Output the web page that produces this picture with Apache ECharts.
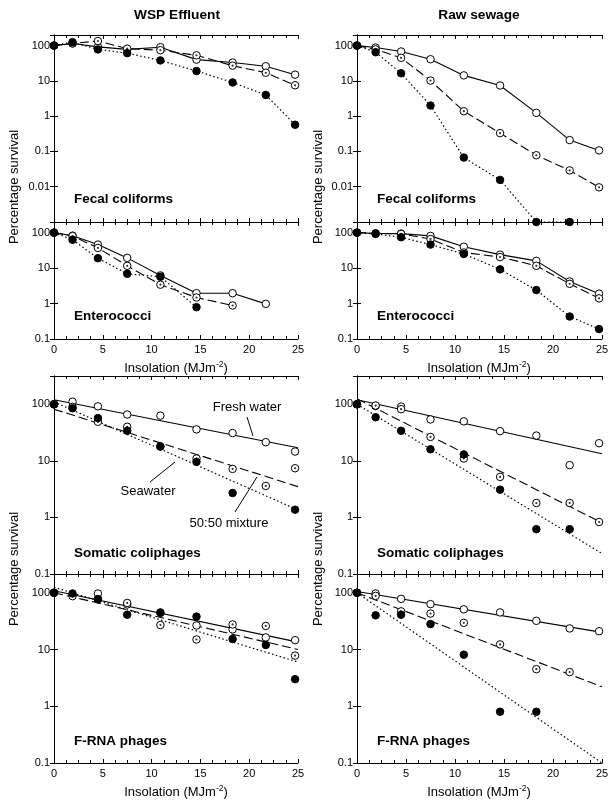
<!DOCTYPE html>
<html><head><meta charset="utf-8">
<script src="https://cdn.jsdelivr.net/npm/echarts@6/dist/echarts.min.js"></script>
<style>html,body{margin:0;padding:0;background:#fff}#c{width:615px;height:807px}</style>
</head><body><div id="c"></div>
<script>
// ---------- data ----------
const insolation = [0, 1.9, 4.5, 7.5, 10.9, 14.6, 18.3, 21.7, 24.7];
const fitX = [0, 25];
const xTickLabels = ['0', '5', '10', '15', '20', '25'];
const yTickLabelsFecal = ['0.01', '0.1', '1', '10', '100'];
const yTickLabels = ['0.1', '1', '10', '100'];
const columnTitles = ['WSP Effluent', 'Raw sewage'];
const panelNames = ['Fecal coliforms', 'Enterococci', 'Somatic coliphages', 'F-RNA phages'];

// Fresh water = open circles, solid; 50:50 mixture = dotted circles, dashed; Seawater = filled, dotted
const wspFecalFresh = [100, 115, 92, 78, 90, 40, 33, 26, 15];
const wspFecalMix   = [100, 115, 135, 82, 74, 53, 27, 17, 7.5];
const wspFecalSea   = [100, 125, 78, 61, 38, 19, 9, 4, 0.57];

const rawFecalFresh = [100, 88, 68, 41, 14.3, 7.4, 1.24, 0.21, 0.107];
const rawFecalMix   = [100, 78, 45, 10.2, 1.38, 0.33, 0.078, 0.029, 0.0096];
const rawFecalSea   = [100, 65, 16.4, 2, 0.067, 0.0156, 0.001, 0.001, null];

const wspEnteroFresh = [100, 82, 46, 19.4, 6.2, 1.96, 1.96, 0.98, null];
const wspEnteroMix   = [100, 80, 37, 11.6, 3.4, 1.48, 0.88, null, null];
const wspEnteroSea   = [100, 63, 19, 6.9, 5.7, 0.79, null, null, null];

const rawEnteroFresh = [100, 95, 94, 81, 40, 24, 16, 4.2, 1.9];
const rawEnteroMix   = [100, 95, 92, 66, 27.5, 20.5, 11.6, 3.6, 1.4];
const rawEnteroSea   = [100, 92, 74, 46, 25, 9.2, 2.4, 0.43, 0.19];

const wspSomaticFresh = [100, 111, 92, 66, 63, 36, 31, 21.4, 14.6];
const wspSomaticMix   = [100, 90, 49, 40, 18, 11, 7.2, 3.6, 7.4];
const wspSomaticSea   = [100, 85, 57, 34, 17.9, 9.6, 2.7, null, 1.37];
const wspSomaticFreshFit = [120, 17];
const wspSomaticMixFit   = [82, 3.5];
const wspSomaticSeaFit   = [110, 1.35];

const rawSomaticFresh = [100, 93, 91, 54, 50, 33.5, 28, 8.4, 20.5];
const rawSomaticMix   = [100, 95, 82, 26.5, 11, 5.2, 1.8, 1.8, 0.83];
const rawSomaticSea   = [100, 59, 34, 16, 13, 3.1, 0.62, 0.62, null];
const rawSomaticFreshFit = [120, 13.4];
const rawSomaticMixFit   = [125, 0.8];
const rawSomaticSeaFit   = [100, 0.23];

const wspFrnaFresh = [100, 91, 97, 62, 44, 26.5, 22.6, 16.3, 14.6];
const wspFrnaMix   = [100, 87, 77, 66, 27, 15, 27.6, 26, 7.8];
const wspFrnaSea   = [100, 97, 77, 41, 45, 38, 15.3, 12, 3];
const wspFrnaFreshFit = [108, 13.5];
const wspFrnaMixFit   = [100, 10];
const wspFrnaSeaFit   = [125, 6];

const rawFrnaFresh = [100, 97, 78, 63, 51, 45, 32, 23.5, 21];
const rawFrnaMix   = [100, 88, 47, 43, 29.5, 12.3, 4.5, 4, null];
const rawFrnaSea   = [100, 40, 41, 28, 8.1, 0.8, 0.8, null, null];
const rawFrnaFreshFit = [105, 20];
const rawFrnaMixFit   = [100, 2.2];
const rawFrnaSeaFit   = [100, 0.1];

// ---------- layout ----------
const FONT = '"Liberation Sans", Arial, Helvetica, sans-serif';
const colLeft = [54, 357], colWidth = [244, 245];
const rows = [
  {top: 35,  height: 187, min: 0.001, max: Math.pow(10, 2.3),  labels: yTickLabelsFecal, xLabels: false, labelY: 199},
  {top: 222, height: 117, min: 0.1,   max: Math.pow(10, 2.3),  labels: yTickLabels,      xLabels: true,  labelY: 316},
  {top: 376, height: 198, min: 0.1,   max: Math.pow(10, 2.5),  labels: yTickLabels,      xLabels: false, labelY: 553},
  {top: 574, height: 189, min: 0.1,   max: Math.pow(10, 2.33), labels: yTickLabels,      xLabels: true,  labelY: 741}
];
const panels = [
  {col: 0, row: 0, fresh: wspFecalFresh, mix: wspFecalMix, sea: wspFecalSea},
  {col: 1, row: 0, fresh: rawFecalFresh, mix: rawFecalMix, sea: rawFecalSea},
  {col: 0, row: 1, fresh: wspEnteroFresh, mix: wspEnteroMix, sea: wspEnteroSea},
  {col: 1, row: 1, fresh: rawEnteroFresh, mix: rawEnteroMix, sea: rawEnteroSea},
  {col: 0, row: 2, fresh: wspSomaticFresh, mix: wspSomaticMix, sea: wspSomaticSea,
   fit: {fresh: wspSomaticFreshFit, mix: wspSomaticMixFit, sea: wspSomaticSeaFit}},
  {col: 1, row: 2, fresh: rawSomaticFresh, mix: rawSomaticMix, sea: rawSomaticSea,
   fit: {fresh: rawSomaticFreshFit, mix: rawSomaticMixFit, sea: rawSomaticSeaFit}},
  {col: 0, row: 3, fresh: wspFrnaFresh, mix: wspFrnaMix, sea: wspFrnaSea,
   fit: {fresh: wspFrnaFreshFit, mix: wspFrnaMixFit, sea: wspFrnaSeaFit}},
  {col: 1, row: 3, fresh: rawFrnaFresh, mix: rawFrnaMix, sea: rawFrnaSea,
   fit: {fresh: rawFrnaFreshFit, mix: rawFrnaMixFit, sea: rawFrnaSeaFit}}
];

const styles = {
  fresh: {line: 'solid', width: 1.1, fill: '#fff', dot: false},
  mix:   {line: [9, 4], width: 1.1, fill: '#fff', dot: true},
  sea:   {line: [1.5, 2.5], width: 1.2, fill: '#000', dot: false}
};

const grid = [], xAxis = [], yAxis = [], series = [], graphic = [];
const axisLine = {show: true, lineStyle: {color: '#000', width: 1}};
function pairs(xs, vs) {
  const out = [];
  xs.forEach((x, i) => { if (vs[i] != null) out.push([x, vs[i]]); });
  return out;
}

panels.forEach((p, g) => {
  const r = rows[p.row];
  grid.push({left: colLeft[p.col], width: colWidth[p.col], top: r.top, height: r.height, containLabel: false});
  const xBase = {
    type: 'value', gridIndex: g, min: 0, max: 25, interval: 5,
    axisLine: axisLine, splitLine: {show: false},
    axisTick: {show: true, inside: true, length: 4, lineStyle: {color: '#000'}},
    minorTick: {show: true, splitNumber: 4, length: 3, lineStyle: {color: '#000'}},
  };
  xAxis.push(Object.assign({}, xBase, {
    position: 'bottom',
    axisLabel: {show: r.xLabels, color: '#000', fontSize: 11, fontFamily: FONT, margin: 5,
      formatter: v => xTickLabels[Math.round(v / 5)]}
  }));
  xAxis.push(Object.assign({}, xBase, {position: 'top', axisLabel: {show: false}}));
  const labels = r.labels;
  const yBase = {
    type: 'log', logBase: 10, gridIndex: g, min: r.min, max: r.max,
    axisLine: axisLine, splitLine: {show: false}, minorTick: {show: false},
    axisTick: {show: true, inside: true, length: 4, lineStyle: {color: '#000'}}
  };
  yAxis.push(Object.assign({}, yBase, {
    position: 'left',
    axisLabel: {show: true, color: '#000', fontSize: 11, fontFamily: FONT, margin: 4,
      showMaxLabel: false,
      formatter: v => {
        const hit = labels.find(l => Math.abs(Math.log10(Number(l)) - Math.log10(v)) < 1e-4);
        return hit || '';
      }}
  }));
  yAxis.push(Object.assign({}, yBase, {position: 'right', axisLabel: {show: false}}));

  ['fresh', 'mix', 'sea'].forEach(k => {
    const st = styles[k];
    const lineData = p.fit ? [[fitX[0], p.fit[k][0]], [fitX[1], p.fit[k][1]]] : pairs(insolation, p[k]);
    series.push({
      type: 'line', xAxisIndex: 2 * g, yAxisIndex: 2 * g, data: lineData,
      symbol: 'none', showSymbol: false, clip: false, z: 2, silent: true,
      lineStyle: {color: '#000', width: st.width, type: st.line}
    });
  });
  ['fresh', 'mix', 'sea'].forEach(k => {
    const st = styles[k];
    const pts = pairs(insolation, p[k]);
    series.push({
      type: 'scatter', xAxisIndex: 2 * g, yAxisIndex: 2 * g, data: pts, clip: false, z: 3,
      symbol: 'circle', symbolSize: 7.5, silent: true,
      itemStyle: {color: st.fill, borderColor: '#000', borderWidth: 1, opacity: 1}
    });
    if (st.dot) {
      series.push({
        type: 'scatter', xAxisIndex: 2 * g, yAxisIndex: 2 * g, data: pts, clip: false, z: 4,
        symbol: 'circle', symbolSize: 2.2, silent: true, itemStyle: {color: '#000'}
      });
    }
  });

  graphic.push({type: 'text', x: colLeft[p.col] + 20, y: r.labelY, silent: true,
    style: {text: panelNames[p.row], font: 'bold 13.5px ' + FONT, fill: '#000', align: 'left', verticalAlign: 'middle'}});
});

// column titles
[177, 479].forEach((cx, i) => graphic.push({type: 'text', x: cx, y: 15, silent: true,
  style: {text: columnTitles[i], font: 'bold 13.7px ' + FONT, fill: '#000', align: 'center', verticalAlign: 'middle'}}));
// y titles
[14, 318].forEach(cx => [187, 569].forEach(cy => graphic.push({type: 'text', x: cx, y: cy, rotation: Math.PI / 2, silent: true,
  style: {text: 'Percentage survival', font: '13px ' + FONT, fill: '#000', align: 'center', verticalAlign: 'middle'}})));
// x titles
[176, 479].forEach(cx => [368, 792].forEach(cy => graphic.push({type: 'text', x: cx, y: cy, silent: true,
  style: {text: '{a|Insolation (MJm}{s|-2}{a|)}', fill: '#000', align: 'center', verticalAlign: 'middle',
    rich: {a: {font: '13px ' + FONT, fill: '#000', lineHeight: 16, verticalAlign: 'middle'},
           s: {font: '8.5px ' + FONT, fill: '#000', lineHeight: 16, verticalAlign: 'top'}}}})));
// annotations (WSP somatic coliphages)
const ann = [
  {t: 'Fresh water', x: 247, y: 407, l: [247, 417, 253, 436]},
  {t: 'Seawater', x: 148, y: 491, l: [150, 482, 175, 462]},
  {t: '50:50 mixture', x: 229, y: 523, l: [235, 512, 257, 477]}
];
ann.forEach(a => {
  graphic.push({type: 'text', x: a.x, y: a.y, silent: true,
    style: {text: a.t, font: '13px ' + FONT, fill: '#000', align: 'center', verticalAlign: 'middle'}});
  graphic.push({type: 'line', silent: true, shape: {x1: a.l[0], y1: a.l[1], x2: a.l[2], y2: a.l[3]},
    style: {stroke: '#000', lineWidth: 1}});
});

const chart = echarts.init(document.getElementById('c'), null, {renderer: 'canvas'});
chart.setOption({
  animation: false, backgroundColor: '#fff',
  grid, xAxis, yAxis, series, graphic
});
</script></body></html>
